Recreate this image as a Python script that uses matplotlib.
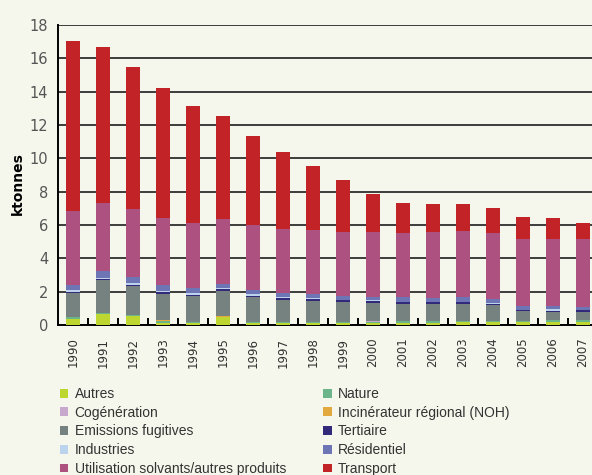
import numpy as np
import matplotlib
matplotlib.use('Agg')
import matplotlib.pyplot as plt
from matplotlib.patches import Patch

###########################################################
# Data (ktonnes)
###########################################################

years = [str(y) for y in range(1990, 2008)]

autres       = [0.38, 0.68, 0.54, 0.14, 0.10, 0.46, 0.10, 0.14, 0.12, 0.10, 0.10, 0.12, 0.12, 0.20, 0.16, 0.16, 0.18, 0.18]
nature       = [0.12, 0.06, 0.06, 0.08, 0.10, 0.00, 0.10, 0.06, 0.08, 0.08, 0.08, 0.14, 0.12, 0.06, 0.08, 0.10, 0.12, 0.12]
incinerateur = [0.00, 0.00, 0.00, 0.06, 0.00, 0.08, 0.00, 0.00, 0.00, 0.00, 0.00, 0.00, 0.00, 0.00, 0.00, 0.00, 0.00, 0.00]
cogeneration = [0.00, 0.00, 0.00, 0.00, 0.00, 0.00, 0.00, 0.00, 0.00, 0.00, 0.06, 0.00, 0.00, 0.00, 0.00, 0.00, 0.00, 0.00]
fugitives    = [1.44, 1.96, 1.74, 1.60, 1.56, 1.52, 1.46, 1.32, 1.24, 1.20, 1.08, 1.00, 1.02, 1.00, 0.96, 0.58, 0.48, 0.50]
tertiaire    = [0.06, 0.08, 0.08, 0.08, 0.06, 0.08, 0.08, 0.08, 0.12, 0.10, 0.10, 0.14, 0.14, 0.14, 0.08, 0.08, 0.08, 0.08]
industries   = [0.10, 0.06, 0.12, 0.08, 0.12, 0.06, 0.10, 0.06, 0.08, 0.04, 0.06, 0.00, 0.00, 0.00, 0.06, 0.00, 0.08, 0.00]
residentiel  = [0.30, 0.40, 0.34, 0.36, 0.30, 0.28, 0.28, 0.26, 0.24, 0.24, 0.20, 0.28, 0.24, 0.28, 0.22, 0.24, 0.22, 0.20]
solvants     = [4.44, 4.08, 4.08, 4.02, 3.88, 3.88, 3.88, 3.84, 3.82, 3.82, 3.90, 3.84, 3.94, 3.96, 3.96, 4.00, 4.00, 4.08]
transport    = [10.20, 9.36, 8.52, 7.80, 7.02, 6.18, 5.34, 4.62, 3.84, 3.12, 2.28, 1.80, 1.68, 1.62, 1.50, 1.32, 1.26, 0.96]

# stacking order, bottom to top
stack = [
    ('Autres', autres, '#bed630'),
    ('Nature', nature, '#6cb48a'),
    ('Incinérateur régional (NOH)', incinerateur, '#e2aa3e'),
    ('Cogénération', cogeneration, '#c6a9cd'),
    ('Emissions fugitives', fugitives, '#75827f'),
    ('Tertiaire', tertiaire, '#33297b'),
    ('Industries', industries, '#bcd3ed'),
    ('Résidentiel', residentiel, '#6e75b4'),
    ('Utilisation solvants/autres produits', solvants, '#ad5280'),
    ('Transport', transport, '#c12327'),
]

# legend order (two columns, filled column by column)
legend_order = ['Autres', 'Cogénération', 'Emissions fugitives', 'Industries',
                'Utilisation solvants/autres produits',
                'Nature', 'Incinérateur régional (NOH)', 'Tertiaire',
                'Résidentiel', 'Transport']

###########################################################
# Plot
###########################################################

bg = '#f6f7ec'
fig = plt.figure(figsize=(5.92, 4.75), dpi=100, facecolor=bg)
ax = fig.add_axes([58/592, 150/475, 540/592, 300/475])
ax.set_facecolor(bg)

x = np.arange(len(years))
bottom = np.zeros(len(years))
colors = {}
for name, vals, col in stack:
    ax.bar(x, vals, width=0.47, bottom=bottom, color=col, linewidth=0, zorder=3)
    bottom += np.array(vals)
    colors[name] = col

ax.set_xlim(-0.5, 17.5)
ax.set_ylim(0, 18)
ax.set_yticks(np.arange(0, 19, 2))
ax.yaxis.grid(True, color='#3c3c3c', linewidth=1.4, zorder=0)
ax.set_axisbelow(True)

ax.set_xticks(x)
ax.set_xticklabels(years, rotation=90, fontsize=8.5, color='#333333')
ax.set_xticks(x[:-1] + 0.5, minor=True)
ax.tick_params(axis='x', which='major', length=0, pad=9)
ax.tick_params(axis='x', which='minor', direction='in', length=5, width=1.4, color='black')
ax.tick_params(axis='y', length=0, pad=7, labelsize=10.5, labelcolor='#555555')

for s in ['top', 'right']:
    ax.spines[s].set_visible(False)
for s in ['left', 'bottom']:
    ax.spines[s].set_color('black')
    ax.spines[s].set_linewidth(1.4)

ax.set_ylabel('ktonnes', fontsize=10, fontweight='bold')
ax.yaxis.set_label_coords(-33/540, 0.47)

handles = [Patch(facecolor=colors[n], edgecolor='none') for n in legend_order]
fig.legend(handles, legend_order, ncol=2, loc='upper left',
           bbox_to_anchor=(60/592, 1 - 387/475), frameon=False,
           prop={'family': 'Liberation Sans', 'size': 10},
           labelcolor='#333333', handlelength=0.6, handleheight=0.6,
           handletextpad=0.45, columnspacing=2.7, labelspacing=0.34,
           borderpad=0, borderaxespad=0)

plt.savefig('out.png', dpi=100, facecolor=bg)
